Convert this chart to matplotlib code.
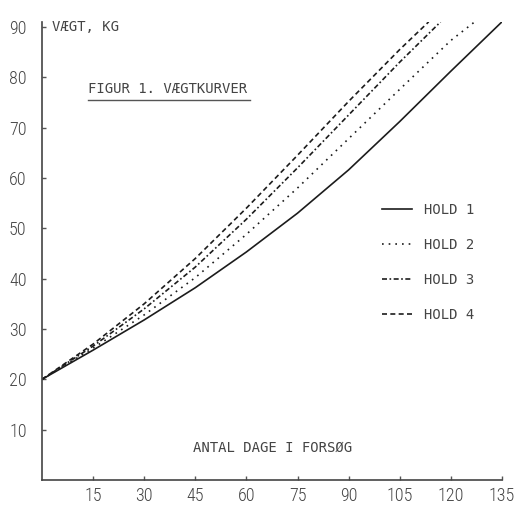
import matplotlib
matplotlib.use('Agg')
import matplotlib.pyplot as plt
from matplotlib.lines import Line2D

# Vægtkurver for 4 hold
days = [0, 15, 30, 45, 60, 75, 90, 105, 120, 135]
hold1 = [20, 25.8, 31.8, 38.2, 45.3, 53, 61.6, 71.2, 81.2, 91]

days2 = [0, 15, 30, 45, 60, 75, 90, 105, 120, 127]
hold2 = [20, 26.2, 32.8, 40.2, 48.8, 58, 67.8, 77.6, 87.3, 91]

days3 = [0, 15, 30, 45, 60, 75, 90, 105, 117]
hold3 = [20, 26.6, 34, 42.3, 51.8, 62, 72.5, 83, 91]

days4 = [0, 15, 30, 45, 60, 75, 90, 105, 113.5]
hold4 = [20, 27, 35, 44, 54, 64.5, 75.2, 85.5, 91]

labels = ['HOLD 1', 'HOLD 2', 'HOLD 3', 'HOLD 4']
x_ticks = [15, 30, 45, 60, 75, 90, 105, 120, 135]
y_ticks = [10, 20, 30, 40, 50, 60, 70, 80, 90]

ink = '#1c1c1c'
grey = '#444444'
num_font = ['Roboto Condensed', 'DejaVu Sans']
cap_font = ['DejaVu Sans Mono']

fig = plt.figure(figsize=(5.18, 5.08), dpi=100)
ax = fig.add_axes([0.081, 0.055, 0.888, 0.902])

ax.plot(days, hold1, color=ink, lw=1.2, linestyle='-')
ax.plot(days2, hold2, color=ink, lw=1.2, linestyle=(0, (1, 3)))
ax.plot(days3, hold3, color=ink, lw=1.2, linestyle=(0, (3, 1.5, 1, 1.5)))
ax.plot(days4, hold4, color=ink, lw=1.2, linestyle=(0, (3, 2)))

ax.set_xlim(0, 135)
ax.set_ylim(0, 91)
ax.set_xticks(x_ticks)
ax.set_yticks(y_ticks)
ax.set_xticklabels([str(t) for t in x_ticks], family=num_font, weight='light',
                   fontsize=13, color=grey)
ax.set_yticklabels([str(t) for t in y_ticks], family=num_font, weight='light',
                   fontsize=13, color=grey)
ax.tick_params(direction='in', length=3, width=1, color='#555555')
ax.tick_params(axis='x', pad=5)
ax.tick_params(axis='y', pad=11)

for side in ['top', 'right']:
    ax.spines[side].set_visible(False)
for side in ['left', 'bottom']:
    ax.spines[side].set_color('#444444')
    ax.spines[side].set_linewidth(1.2)

# tekster
ax.text(0.022, 0.989, 'VÆGT, KG', transform=ax.transAxes, family=cap_font,
        fontsize=10, color=grey, ha='left', va='center')
ax.text(0.1, 0.854, 'FIGUR 1. VÆGTKURVER', transform=ax.transAxes, family=cap_font,
        fontsize=10, color=grey, ha='left', va='center')
ax.add_line(Line2D([0.1, 0.452], [0.83, 0.83], transform=ax.transAxes,
                   color='#555555', lw=1))
ax.text(0.329, 0.07, 'ANTAL DAGE I FORSØG', transform=ax.transAxes, family=cap_font,
        fontsize=10, color=grey, ha='left', va='center')

leg = ax.legend(labels, loc='upper left', bbox_to_anchor=(0.739, 0.604),
                frameon=False, borderpad=0, borderaxespad=0,
                handlelength=2.2, handletextpad=0.8, labelspacing=1.5,
                prop={'family': cap_font, 'size': 10})
for t in leg.get_texts():
    t.set_color(grey)

plt.savefig('out.png', dpi=100)
plt.close()
